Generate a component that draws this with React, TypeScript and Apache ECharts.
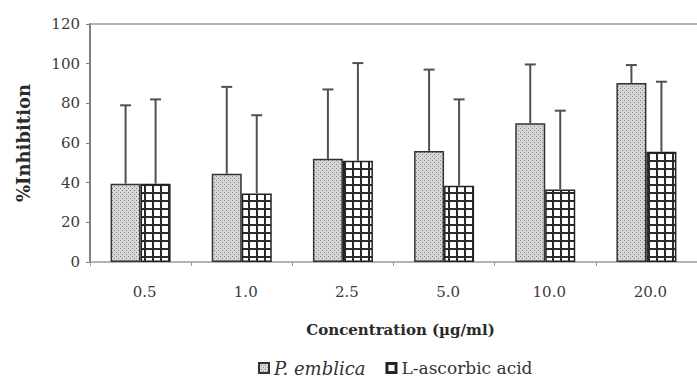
import React, { useEffect, useRef } from "react";
import * as echarts from "echarts";

const categories = ["0.5", "1.0", "2.5", "5.0", "10.0", "20.0"];
const emblicaMean = [39.5, 44.5, 52, 56, 70, 90.3];
const emblicaUpper = [79, 88.3, 87, 97, 99.6, 99.3];
const ascorbicMean = [39.5, 34.6, 51, 38.5, 36.6, 55.6];
const ascorbicUpper = [82, 74, 100.3, 82, 76.3, 90.9];
const seriesNames = ["P. emblica", "L-ascorbic acid"];
const yTicks = { min: 0, max: 120, interval: 20 };

function makeDots() {
  const c = document.createElement("canvas");
  c.width = 4;
  c.height = 4;
  const ctx = c.getContext("2d")!;
  ctx.fillStyle = "#d6d6d6";
  ctx.fillRect(0, 0, 4, 4);
  ctx.fillStyle = "#858585";
  ctx.fillRect(0, 0, 1, 1);
  ctx.fillRect(2, 2, 1, 1);
  return c;
}
function makeGrid() {
  const c = document.createElement("canvas");
  c.width = 8;
  c.height = 8;
  const ctx = c.getContext("2d")!;
  ctx.fillStyle = "#ffffff";
  ctx.fillRect(0, 0, 8, 8);
  ctx.fillStyle = "#2a2a2a";
  ctx.fillRect(0, 0, 8, 2);
  ctx.fillRect(0, 0, 2, 8);
  return c;
}

const FONT = "DejaVu Serif";
const LFONT = "'DejaVu Serif', serif";

export default function App() {
  const ref = useRef<HTMLDivElement>(null);
  useEffect(() => {
    const chart = echarts.init(ref.current!, null, { renderer: "svg" });
    const dots = { image: makeDots(), repeat: "repeat", imageWidth: 4, imageHeight: 4 } as any;
    const grid = { image: makeGrid(), repeat: "repeat", imageWidth: 8, imageHeight: 8 } as any;
    const BW = 30;
    const errSeries = (name: string, means: number[], uppers: number[], off: number) => ({
      type: "custom",
      name: name + " err",
      z: 5,
      data: means.map((m, i) => [i, m, uppers[i]]),
      renderItem: (_p: any, api: any) => {
        const b = api.coord([api.value(0), api.value(1)]);
        const t = api.coord([api.value(0), api.value(2)]);
        const x = b[0] + off;
        const st = { stroke: "#505050", lineWidth: 2 };
        return {
          type: "group",
          children: [
            { type: "line", shape: { x1: x, y1: b[1], x2: x, y2: t[1] }, style: st },
            { type: "line", shape: { x1: x - 5.5, y1: t[1], x2: x + 5.5, y2: t[1] }, style: st },
          ],
        };
      },
    });
    chart.setOption({
      animation: false,
      backgroundColor: "#ffffff",
      textStyle: { fontFamily: FONT },
      grid: { left: 90, top: 24, width: 614, height: 238 },
      legend: {
        data: seriesNames,
        left: 256,
        top: 357,
        padding: 2,
        itemWidth: 10,
        itemHeight: 10,
        itemGap: 20,
        icon: "rect",
        textStyle: {
          fontFamily: LFONT,
          fontSize: 17,
          color: "#333",
          rich: {
            i: { fontFamily: LFONT, fontSize: 18, fontStyle: "italic", color: "#333" },
            n: { fontFamily: LFONT, fontSize: 17, color: "#333" },
          },
        },
        formatter: (n: string) => (n === "P. emblica" ? "{i|P. emblica}" : "{n|" + n + "}"),
      },
      xAxis: [
        {
          type: "category",
          data: categories,
          name: "Concentration (µg/ml)",
          nameLocation: "middle",
          nameGap: 60,
          nameTextStyle: { fontFamily: FONT, fontWeight: "bold", fontSize: 15, color: "#2a2a2a", padding: [0, 0, 0, 14] },
          axisLine: { lineStyle: { color: "#9a9a9a", width: 1.5 } },
          axisTick: { show: true, length: 4, lineStyle: { color: "#9a9a9a" } },
          axisLabel: { margin: 22, fontFamily: FONT, fontSize: 15, color: "#3a3a3a", padding: [0, 0, 0, 8] },
        },
        {
          type: "category",
          data: categories,
          position: "top",
          axisLine: { show: true, lineStyle: { color: "#9a9a9a", width: 1.5 } },
          axisTick: { show: false },
          axisLabel: { show: false },
        },
      ],
      yAxis: {
        type: "value",
        min: yTicks.min,
        max: yTicks.max,
        interval: yTicks.interval,
        name: "%Inhibition",
        nameLocation: "middle",
        nameGap: 58,
        nameTextStyle: { fontFamily: FONT, fontWeight: "bold", fontSize: 18, color: "#2a2a2a" },
        axisLine: { show: true, lineStyle: { color: "#808080", width: 2 } },
        axisTick: { show: true, length: 4, lineStyle: { color: "#808080" } },
        axisLabel: { margin: 10, fontFamily: FONT, fontSize: 15, color: "#3a3a3a" },
        splitLine: { show: false },
      },
      series: [
        {
          type: "bar",
          name: seriesNames[0],
          data: emblicaMean,
          barWidth: BW,
          barGap: "0%",
          itemStyle: { color: dots, borderColor: "#333", borderWidth: 1.5 },
        },
        {
          type: "bar",
          name: seriesNames[1],
          data: ascorbicMean,
          barWidth: BW,
          barGap: "0%",
          itemStyle: { color: grid, borderColor: "#222", borderWidth: 1.5 },
        },
        errSeries(seriesNames[0], emblicaMean, emblicaUpper, -BW / 2),
        errSeries(seriesNames[1], ascorbicMean, ascorbicUpper, BW / 2),
      ],
    } as any);
    return () => chart.dispose();
  }, []);
  return <div ref={ref} style={{ width: 697, height: 380, position: "absolute", left: 0, top: 0 }} />;
}
